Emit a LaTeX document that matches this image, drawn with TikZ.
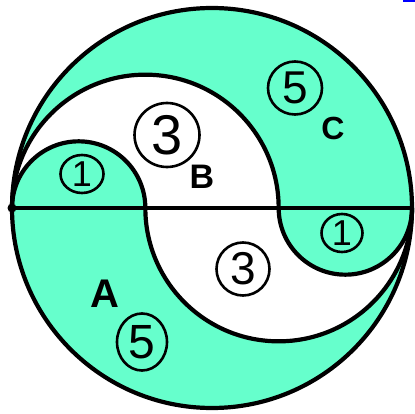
\documentclass[tikz,border=0pt]{standalone}
\usepackage{fontspec}
\setmainfont{Liberation Sans}
\usetikzlibrary{shapes.geometric}
\definecolor{mint}{HTML}{66FFCC}
\tikzset{
  edge/.style={line width=4.2pt, line join=round, line cap=round},
  ring/.style={ellipse, draw, line width=2.6pt, inner sep=0pt, fill=none},
  letter/.style={inner sep=0pt},
}
\begin{document}
\begin{tikzpicture}[x=1pt,y=1pt]
\useasboundingbox (0,0) rectangle (415,-414);
% regions
\fill[mint] (212,-208) circle[radius=200];
\fill[white] (12,-208) arc[start angle=180,end angle=0,radius=133.33] -- cycle;
\fill[mint] (12,-208) arc[start angle=180,end angle=0,radius=66.67] -- cycle;
\fill[white] (145.33,-208) arc[start angle=180,end angle=360,radius=133.33] -- cycle;
\fill[mint] (278.67,-208) arc[start angle=180,end angle=360,radius=66.67] -- cycle;
% named points
\coordinate (L) at (12,-208);
\coordinate (P1) at (145.33,-208);
\coordinate (P2) at (278.67,-208);
\coordinate (Rt) at (412,-208);
% lines
\draw[edge] (212,-208) circle[radius=200];
\draw[edge] (L) -- (Rt);
\draw[edge] (L) arc[start angle=180,end angle=0,radius=133.33];
\draw[edge] (L) arc[start angle=180,end angle=0,radius=66.67];
\draw[edge] (P1) arc[start angle=180,end angle=360,radius=133.33];
\draw[edge] (P2) arc[start angle=180,end angle=360,radius=66.67];
\fill (L) circle[radius=4.5];
% labels
\node[ring, minimum width=43pt, minimum height=38pt, font=\fontsize{36}{36}\selectfont] (n1a) at (82,-174) {1};
\node[ring, minimum width=65pt, minimum height=64pt, font=\fontsize{56}{56}\selectfont] (n3a) at (167,-135) {3};
\node[letter, font=\bfseries\fontsize{34}{34}\selectfont] (B) at (202,-177) {B};
\node[ring, minimum width=54pt, minimum height=53pt, font=\fontsize{46}{46}\selectfont] (n5a) at (295,-88) {5};
\node[letter, font=\bfseries\fontsize{32}{32}\selectfont] (C) at (333,-128) {C};
\node[ring, minimum width=41pt, minimum height=38pt, font=\fontsize{36}{36}\selectfont] (n1b) at (342,-233) {1};
\node[ring, minimum width=53pt, minimum height=53pt, font=\fontsize{46}{46}\selectfont] (n3b) at (243,-269) {3};
\node[letter, font=\bfseries\fontsize{40}{40}\selectfont] (A) at (105,-294) {A};
\node[ring, minimum width=50pt, minimum height=57pt, font=\fontsize{48}{48}\selectfont] (n5b) at (142,-342) {5};
% corner mark
\fill[blue] (403,0) rectangle (415,-2);
\end{tikzpicture}
\end{document}
